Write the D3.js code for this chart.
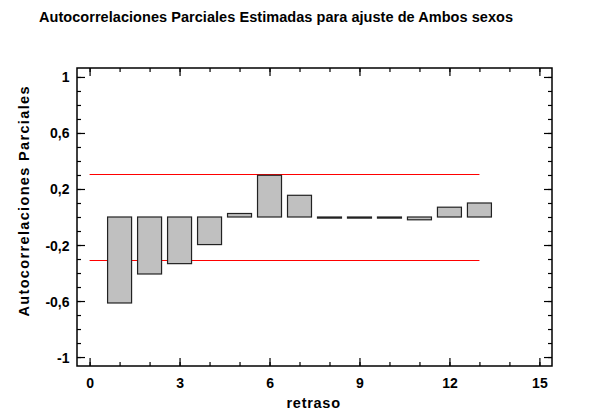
<!DOCTYPE html>
<html><head><meta charset="utf-8">
<script src="https://cdn.jsdelivr.net/npm/d3@7"></script>
<style>
body{margin:0;background:#fff;}
text{font-family:"Liberation Sans",Arial,sans-serif;font-weight:bold;fill:#000;}
</style></head>
<body><svg id="c" width="592" height="412"></svg>
<script>
const title = "Autocorrelaciones Parciales Estimadas para ajuste de  Ambos sexos";
const xLabel = "retraso";
const yLabel = "Autocorrelaciones  Parciales";
const lags = [1,2,3,4,5,6,7,8,9,10,11,12,13];
const pacf = [-0.614,-0.407,-0.333,-0.197,0.025,0.298,0.155,-0.008,-0.008,-0.008,-0.02,0.07,0.1];
const limitUpper = 0.307, limitLower = -0.307;
const limitLags = [0, 13];
const xTicks = [0,3,6,9,12,15];
const xTickLabels = ["0","3","6","9","12","15"];
const yTicks = [-1,-0.6,-0.2,0.2,0.6,1];
const yTickLabels = ["-1","-0,6","-0,2","0,2","0,6","1"];
const xMinor = d3.range(0,16,1);
const yMinor = d3.range(-10,11,1).map(d=>d/10);

const L=77,R=552,T=68,B=366;
const svg=d3.select("#c");
const x=d3.scaleLinear().domain([-0.42,15.42]).range([L,R]);
const y=d3.scaleLinear().domain([-1.064,1.064]).range([B,T]);

// red limit lines
[limitUpper,limitLower].forEach(v=>{
  svg.append("line").attr("x1",x(limitLags[0])).attr("x2",x(limitLags[1]))
    .attr("y1",Math.round(y(v))+0.5).attr("y2",Math.round(y(v))+0.5).attr("stroke","#ff0000").attr("stroke-width",1.2);
});

// bars
const bw = 0.8;
svg.selectAll("rect.bar").data(lags).enter().append("rect").attr("class","bar")
  .attr("x",(d)=>x(d-bw/2)).attr("width",x(bw)-x(0))
  .attr("y",(d,i)=>Math.min(y(0),y(pacf[i])))
  .attr("height",(d,i)=>Math.abs(y(pacf[i])-y(0)))
  .attr("fill","#c0c0c0").attr("stroke","#222").attr("stroke-width",1.2);

// axes with inward ticks
function ax(gen, tr, ticks, size, labels){
  const g=svg.append("g").attr("transform",tr).call(gen.tickValues(ticks).tickSizeInner(size).tickSizeOuter(0).tickPadding(6)
    .tickFormat(labels?((d,i)=>labels[i]):()=>""));
  g.select(".domain").remove();
  g.selectAll("line").attr("stroke","#000").attr("stroke-width",1.2);
  g.selectAll("text").attr("font-size",14).style("font-family","'Liberation Sans',Arial,sans-serif").style("font-weight","bold");
  return g;
}
ax(d3.axisBottom(x),`translate(0,${B})`,xMinor,-4);
ax(d3.axisTop(x),`translate(0,${T})`,xMinor,-4);
ax(d3.axisLeft(y),`translate(${L},0)`,yMinor,-4);
ax(d3.axisRight(y),`translate(${R},0)`,yMinor,-4);
const gb=ax(d3.axisBottom(x),`translate(0,${B})`,xTicks,-8,xTickLabels);
gb.selectAll("text").attr("y",21.5).attr("dy",null);
ax(d3.axisTop(x),`translate(0,${T})`,xTicks,-8);
const gl=ax(d3.axisLeft(y),`translate(${L},0)`,yTicks,-8,yTickLabels);
gl.selectAll("text").attr("x",-7.5).attr("dy",null).attr("y",5);
ax(d3.axisRight(y),`translate(${R},0)`,yTicks,-8);

// frame
svg.append("rect").attr("x",L).attr("y",T).attr("width",R-L).attr("height",B-T)
  .attr("fill","none").attr("stroke","#000").attr("stroke-width",1.5);

// titles
svg.append("text").attr("x",39).attr("y",22).attr("font-size",14.5)
  .attr("textLength",474).attr("lengthAdjust","spacing").text(title);
svg.append("text").attr("x",286.5).attr("y",408).attr("font-size",14.5)
  .attr("textLength",53.5).attr("lengthAdjust","spacing").text(xLabel);
svg.append("text").attr("transform","translate(28.5,316.5) rotate(-90)").attr("font-size",14.5)
  .attr("textLength",230).attr("lengthAdjust","spacing").text(yLabel);
</script></body></html>
